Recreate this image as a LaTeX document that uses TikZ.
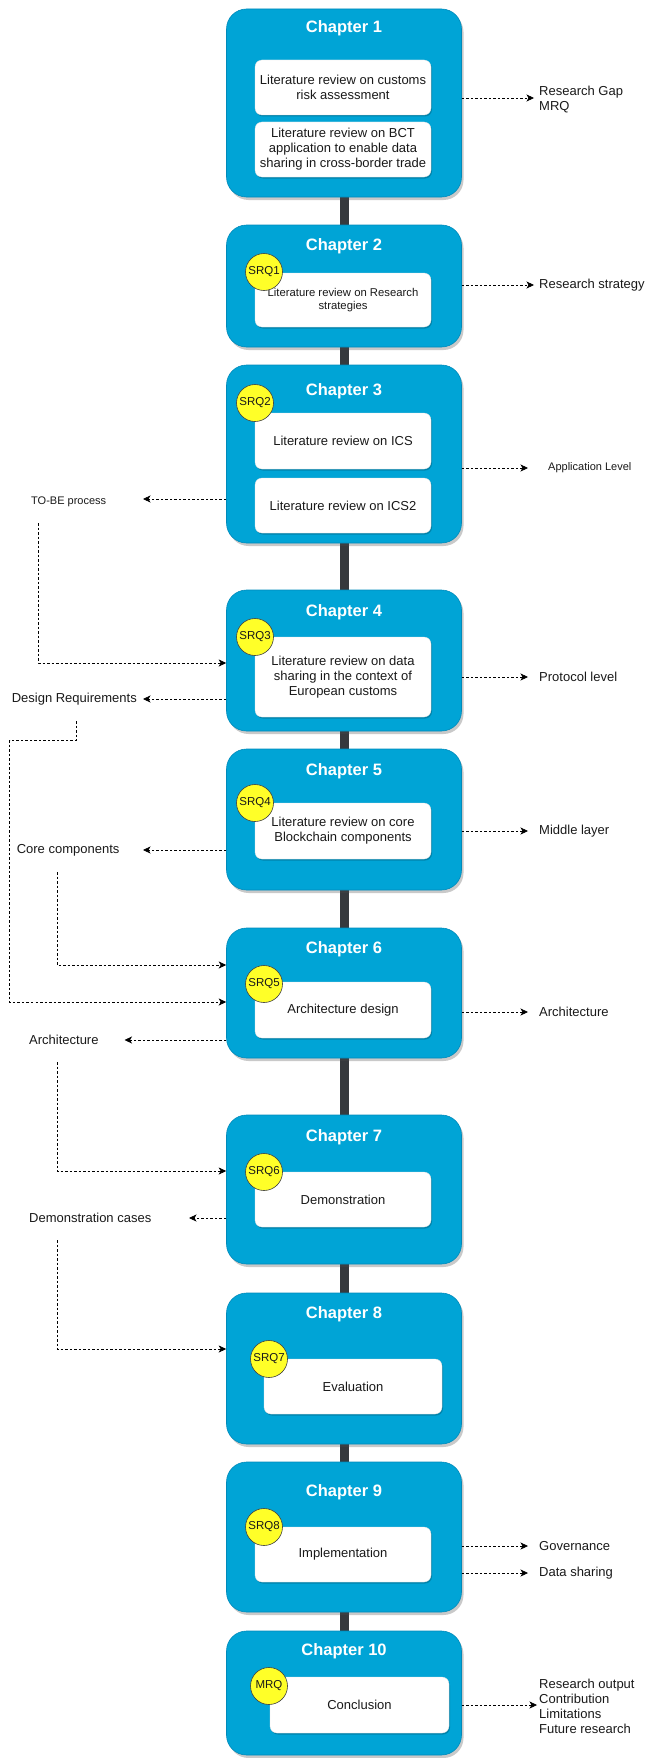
\documentclass[tikz,border=0pt]{standalone}
\usepackage{fontspec}
\setmainfont{Liberation Sans}
\usetikzlibrary{shadows,arrows.meta,backgrounds,calc}

\definecolor{chapblue}{RGB}{0,164,214}
\definecolor{chapedge}{RGB}{0,138,186}
\definecolor{spinegray}{RGB}{54,57,61}
\definecolor{srqyellow}{RGB}{255,255,40}
\definecolor{inktext}{RGB}{25,25,25}

\tikzset{
  chapter/.style={draw=chapedge, line width=0.6pt, fill=chapblue, rounded corners=20pt,
    minimum width=235pt, inner sep=0pt,
    drop shadow={shadow xshift=2pt, shadow yshift=-3pt, opacity=0.3, fill=black!70}},
  chaptitle/.style={font=\bfseries\fontsize{16.5}{19}\selectfont, text=white, inner sep=0pt},
  inbox/.style={fill=white, draw=black!12, line width=0.3pt, rounded corners=7pt,
    minimum width=176pt, align=center, inner sep=0pt, text=inktext,
    font=\fontsize{13}{15}\selectfont,
    drop shadow={shadow xshift=1pt, shadow yshift=-1.5pt, opacity=0.2, fill=black}},
  srq/.style={circle, fill=srqyellow, draw=black!75, line width=0.6pt, minimum size=37pt,
    inner sep=0pt, text=inktext, font=\fontsize{11.5}{13}\selectfont},
  flow/.style={draw=black, line width=0.65pt, dash pattern=on 2.5pt off 2pt,
    -{Stealth[length=7.5pt,width=7pt,inset=2pt]}},
  side/.style={anchor=west, font=\fontsize{13}{15}\selectfont, inner sep=0pt,
    align=left, text=inktext},
  sidesmall/.style={side, font=\fontsize{11}{13}\selectfont},
  spine/.style={draw=spinegray, line width=9pt},
}

\begin{document}
\begin{tikzpicture}[x=1pt, y=-1pt]
\useasboundingbox (0,0) rectangle (647,1758);

% chapter containers
\node[chapter, minimum height=188pt] (ch1)  at (344,103)    {};
\node[chapter, minimum height=122pt] (ch2)  at (344,286)    {};
\node[chapter, minimum height=178pt] (ch3)  at (344,454)    {};
\node[chapter, minimum height=141pt] (ch4)  at (344,660.5)  {};
\node[chapter, minimum height=141pt] (ch5)  at (344,819.5)  {};
\node[chapter, minimum height=130pt] (ch6)  at (344,993)    {};
\node[chapter, minimum height=149pt] (ch7)  at (344,1189.5) {};
\node[chapter, minimum height=151pt] (ch8)  at (344,1368.5) {};
\node[chapter, minimum height=150pt] (ch9)  at (344,1537)   {};
\node[chapter, minimum height=124pt] (ch10) at (344,1693)   {};

% spine joining the chapters
\begin{scope}[on background layer]
  \draw[spine] (ch1.south) -- (ch2.north);
  \draw[spine] (ch2.south) -- (ch3.north);
  \draw[spine] (ch3.south) -- (ch4.north);
  \draw[spine] (ch4.south) -- (ch5.north);
  \draw[spine] (ch5.south) -- (ch6.north);
  \draw[spine] (ch6.south) -- (ch7.north);
  \draw[spine] (ch7.south) -- (ch8.north);
  \draw[spine] (ch8.south) -- (ch9.north);
  \draw[spine] (ch9.south) -- (ch10.north);
\end{scope}

% chapter titles
\node[chaptitle] (t1)  at (344,28)   {Chapter 1};
\node[chaptitle] (t2)  at (344,246)  {Chapter 2};
\node[chaptitle] (t3)  at (344,391)  {Chapter 3};
\node[chaptitle] (t4)  at (344,612)  {Chapter 4};
\node[chaptitle] (t5)  at (344,771)  {Chapter 5};
\node[chaptitle] (t6)  at (344,949)  {Chapter 6};
\node[chaptitle] (t7)  at (344,1137) {Chapter 7};
\node[chaptitle] (t8)  at (344,1314) {Chapter 8};
\node[chaptitle] (t9)  at (344,1492) {Chapter 9};
\node[chaptitle] (t10) at (344,1651) {Chapter 10};

% content boxes
\node[inbox, minimum height=55pt] (b1a) at (343,87.5)  {Literature review on customs\\risk assessment};
\node[inbox, minimum height=55pt] (b1b) at (343,149.5) {Literature review on BCT\\application to enable data\\sharing in cross-border trade};
\node[inbox, minimum height=54pt, font=\fontsize{11.3}{13.3}\selectfont] (b2) at (343,300) {Literature review on Research\\strategies};
\node[inbox, minimum height=56pt] (b3a) at (343,441)   {Literature review on ICS};
\node[inbox, minimum height=55pt] (b3b) at (343,505.5) {Literature review on ICS2};
\node[inbox, minimum height=80pt] (b4)  at (343,677)   {Literature review on data\\sharing in the context of\\European customs};
\node[inbox, minimum height=56pt] (b5)  at (343,831)   {Literature review on core\\Blockchain components};
\node[inbox, minimum height=56pt] (b6)  at (343,1010)  {Architecture design};
\node[inbox, minimum height=55pt] (b7)  at (343,1199.5){Demonstration};
\node[inbox, minimum height=55pt, minimum width=178pt] (b8)  at (353,1386.5){Evaluation};
\node[inbox, minimum height=55pt] (b9)  at (343,1554.5){Implementation};
\node[inbox, minimum height=56pt, minimum width=179pt] (b10) at (359.5,1705) {Conclusion};

% research question badges
\node[srq] (q1) at (264,272)  {SRQ1};
\node[srq] (q2) at (255,403)  {SRQ2};
\node[srq] (q3) at (255,637)  {SRQ3};
\node[srq] (q4) at (255,803)  {SRQ4};
\node[srq] (q5) at (264,984)  {SRQ5};
\node[srq] (q6) at (264,1172) {SRQ6};
\node[srq] (q7) at (269,1359) {SRQ7};
\node[srq] (q8) at (264,1527) {SRQ8};
\node[srq] (q9) at (269,1686) {MRQ};

% outputs on the right
\node[side] (o1) at (539,99.5) {Research Gap\\MRQ};
\node[side] (o2) at (539,285)  {Research strategy};
\node[sidesmall] (o3) at (548,468) {Application Level};
\node[side] (o4) at (539,677)  {Protocol level};
\node[side] (o5) at (539,831)  {Middle layer};
\node[side] (o6) at (539,1012) {Architecture};
\node[side] (o9a) at (539,1546) {Governance};
\node[side] (o9b) at (539,1573) {Data sharing};
\node[side] (o10) at (539,1706.5) {Research output\\Contribution\\Limitations\\Future research};

\coordinate (r1) at (534,98);
\coordinate (r2) at (534,285);
\coordinate (r3) at (528,468);
\coordinate (r4) at (528,677);
\coordinate (r5) at (528,831);
\coordinate (r6) at (528,1012);
\coordinate (r9a) at (528,1546);
\coordinate (r9b) at (528,1573);
\coordinate (r10) at (537,1705);

\draw[flow] (ch1.east |- r1) -- (r1);
\draw[flow] (ch2.east |- r2) -- (r2);
\draw[flow] (ch3.east |- r3) -- (r3);
\draw[flow] (ch4.east |- r4) -- (r4);
\draw[flow] (ch5.east |- r5) -- (r5);
\draw[flow] (ch6.east |- r6) -- (r6);
\draw[flow] (ch9.east |- r9a) -- (r9a);
\draw[flow] (ch9.east |- r9b) -- (r9b);
\draw[flow] (ch10.east |- r10) -- (r10);

% outputs on the left
\node[sidesmall] (l3) at (31,502)  {TO-BE process};
\node[side] (l4) at (11.6,699)     {Design Requirements};
\node[side] (l5) at (16.6,850)     {Core components};
\node[side] (l6) at (29,1040)      {Architecture};
\node[side] (l7) at (29,1218)      {Demonstration cases};

\coordinate (a3) at (143,499);
\coordinate (a4) at (143,699);
\coordinate (a5) at (143,850);
\coordinate (a6) at (124.5,1040);
\coordinate (a7) at (189,1218);

\draw[flow] (ch3.west |- a3) -- (a3);
\draw[flow] (ch4.west |- a4) -- (a4);
\draw[flow] (ch5.west |- a5) -- (a5);
\draw[flow] (ch6.west |- a6) -- (a6);
\draw[flow] (ch7.west |- a7) -- (a7);

% results fed forward into later chapters
\coordinate (f3) at (38.6,523);
\coordinate (f4) at (76,721);
\coordinate (f4b) at (9.5,740);
\coordinate (f5) at (57,872);
\coordinate (f6) at (57,1062);
\coordinate (f7) at (57,1240);

\draw[flow] (f3) |- (ch4.west |- 0,663);
\draw[flow] (f4) -- (f4 |- f4b) -- (f4b) |- (ch6.west |- 0,1002);
\draw[flow] (f5) |- (ch6.west |- 0,965);
\draw[flow] (f6) |- (ch7.west |- 0,1171);
\draw[flow] (f7) |- (ch8.west |- 0,1349);
\end{tikzpicture}
\end{document}
